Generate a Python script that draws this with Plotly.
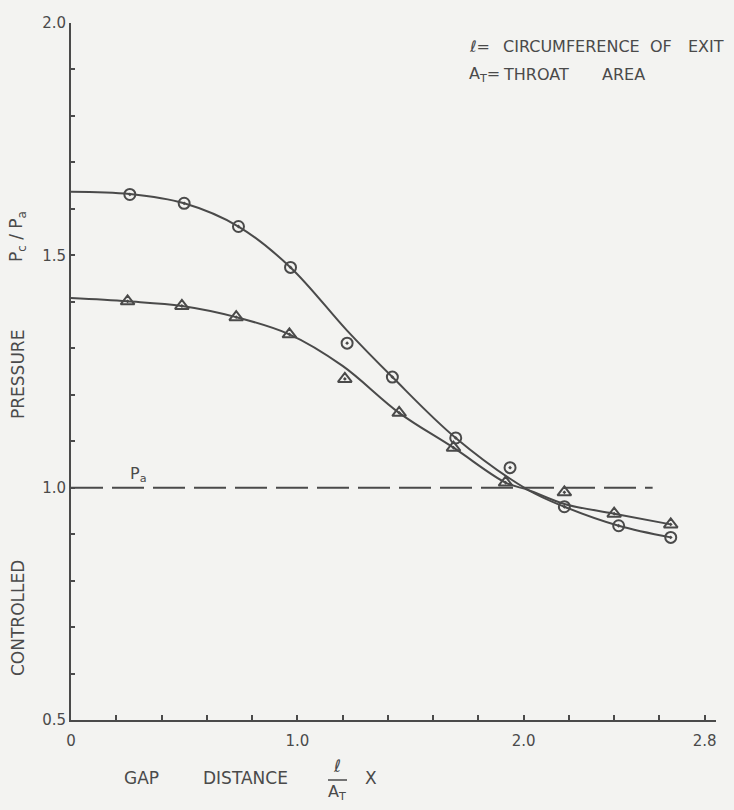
import plotly.graph_objects as go

# ---- data ----
circle_x = [0.26, 0.50, 0.74, 0.97, 1.22, 1.42, 1.70, 1.94, 2.18, 2.42, 2.65]
circle_y = [1.631, 1.612, 1.562, 1.474, 1.311, 1.238, 1.107, 1.043, 0.959, 0.918, 0.893]

tri_x = [0.25, 0.49, 0.73, 0.965, 1.21, 1.45, 1.69, 1.92, 2.18, 2.40, 2.65]
tri_y = [1.401, 1.391, 1.367, 1.330, 1.234, 1.161, 1.086, 1.011, 0.990, 0.944, 0.921]

circle_fit_x = [0.0, 0.26, 0.50, 0.74, 0.97, 1.22, 1.42, 1.70, 2.02, 2.18, 2.42, 2.65]
circle_fit_y = [1.637, 1.632, 1.612, 1.562, 1.474, 1.338, 1.238, 1.107, 0.995, 0.959, 0.918, 0.893]

tri_fit_x = [0.0, 0.25, 0.49, 0.73, 0.965, 1.20, 1.45, 1.69, 1.92, 2.02, 2.18, 2.40, 2.65]
tri_fit_y = [1.408, 1.401, 1.391, 1.367, 1.330, 1.262, 1.161, 1.086, 1.011, 0.995, 0.965, 0.944, 0.921]

pa_x = [0.0, 2.57]
pa_y = [1.0, 1.0]

x_tickvals = [0.0, 0.2, 0.4, 0.6, 0.8, 1.0, 1.2, 1.4, 1.6, 1.8, 2.0, 2.2, 2.4, 2.6, 2.8]
x_ticktext = ["0", "", "", "", "", "1.0", "", "", "", "", "2.0", "", "", "", "2.8"]
y_tickvals = [0.5, 0.6, 0.7, 0.8, 0.9, 1.0, 1.1, 1.2, 1.3, 1.4, 1.5, 1.6, 1.7, 1.8, 1.9, 2.0]
y_ticktext = ["0.5", "", "", "", "", "1.0", "", "", "", "", "1.5", "", "", "", "", "2.0"]

INK = "#4a4a4a"
BG = "#f3f3f1"
FONT = "DejaVu Sans"

W, H = 734, 810
PL, PR, PT, PB = 71, 18, 23, 90
pw, ph = W - PL - PR, H - PT - PB


def px(xp):
    return (xp - PL) / pw


def py(yp):
    return (H - PB - yp) / ph


def note(xp, yp, text, size=16, xanchor="center", angle=0):
    return dict(x=px(xp), y=py(yp), xref="paper", yref="paper", text=text,
                showarrow=False, xanchor=xanchor, yanchor="middle", textangle=angle,
                font=dict(size=size, color=INK, family=FONT))


fig = go.Figure()

fig.add_trace(go.Scatter(x=pa_x, y=pa_y, mode="lines",
                         line=dict(color=INK, width=2, dash="32px,9px"),
                         hoverinfo="skip", showlegend=False))
fig.add_trace(go.Scatter(x=circle_fit_x, y=circle_fit_y, mode="lines",
                         line=dict(color=INK, width=2, shape="spline", smoothing=1.0),
                         showlegend=False))
fig.add_trace(go.Scatter(x=tri_fit_x, y=tri_fit_y, mode="lines",
                         line=dict(color=INK, width=2, shape="spline", smoothing=1.0),
                         showlegend=False))
fig.add_trace(go.Scatter(x=circle_x, y=circle_y, mode="markers",
                         marker=dict(symbol="circle-open-dot", size=11, color=INK,
                                     line=dict(width=2, color=INK)),
                         showlegend=False))
fig.add_trace(go.Scatter(x=tri_x, y=tri_y, mode="markers",
                         marker=dict(symbol="triangle-up-open-dot", size=12, color=INK,
                                     line=dict(width=2, color=INK)),
                         showlegend=False))

annotations = [
    dict(x=0.30, y=1.0, xref="x", yref="y", text="P<sub>a</sub>", showarrow=False,
         yanchor="bottom", yshift=1, font=dict(size=16, color=INK, family=FONT)),
    # key, upper right
    note(467, 47, "ℓ=", xanchor="left"),
    note(571, 47, "CIRCUMFERENCE"),
    note(661, 47, "OF"),
    note(706, 47, "EXIT"),
    note(467, 75, "A<sub>T</sub>=", xanchor="left"),
    note(536, 75, "THROAT"),
    note(623, 75, "AREA"),
    # y title
    note(18, 618, "CONTROLLED", size=17, angle=-90),
    note(18, 375, "PRESSURE", size=17, angle=-90),
    note(18, 237, "P<sub>c</sub> / P<sub>a</sub>", size=17, angle=-90),
    # x title
    note(141, 778, "GAP", size=17),
    note(245, 778, "DISTANCE", size=17),
    note(337, 766, "ℓ", size=17),
    note(337, 792, "A<sub>T</sub>", size=16),
    note(371, 778, "X", size=17),
]

fig.update_layout(
    width=W, height=H,
    margin=dict(l=PL, r=PR, t=PT, b=PB),
    paper_bgcolor=BG, plot_bgcolor=BG,
    font=dict(family=FONT, color=INK, size=15),
    annotations=annotations,
    shapes=[dict(type="line", xref="paper", yref="paper", x0=px(328), x1=px(347),
                 y0=py(780), y1=py(780), line=dict(color=INK, width=1.5))],
    xaxis=dict(range=[0, 2.85], showgrid=False, zeroline=False, showline=True,
               linecolor=INK, linewidth=2, ticks="inside", ticklen=5, tickwidth=1.5,
               tickcolor=INK, tickvals=x_tickvals, ticktext=x_ticktext,
               ticklabelstandoff=6,
               tickfont=dict(size=15, color=INK, family=FONT)),
    yaxis=dict(range=[0.5, 2.0], showgrid=False, zeroline=False, showline=True,
               linecolor=INK, linewidth=2, ticks="inside", ticklen=4, tickwidth=1.5,
               tickcolor=INK, tickvals=y_tickvals, ticktext=y_ticktext,
               tickfont=dict(size=15, color=INK, family=FONT)),
)

fig.write_html(
    "out.html",
    config={"displayModeBar": False},
    post_script="document.body.style.margin='0';document.body.style.padding='0';"
                "document.body.style.overflow='hidden';"
                "document.body.style.background='" + BG + "';",
)
